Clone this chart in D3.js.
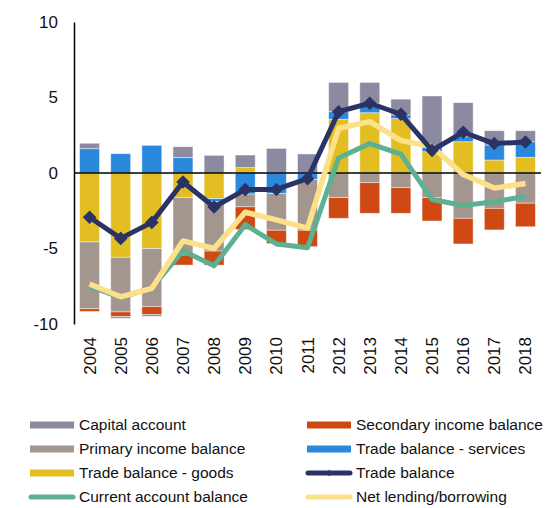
<!DOCTYPE html>
<html>
<head>
<meta charset="utf-8">
<script src="https://cdn.jsdelivr.net/npm/d3@7"></script>
<style>
  body { margin: 0; background: #fff; }
  svg text { font-family: "Liberation Sans", Arial, sans-serif; fill: #111; }
</style>
</head>
<body>
<div id="chart"></div>
<script>
// data, % of GDP
const years = ["2004","2005","2006","2007","2008","2009","2010","2011","2012","2013","2014","2015","2016","2017","2018"];

const goods     = [-4.57, -5.58, -5.01, -1.63, -1.70,  0.36,  0.00,  0.00, 3.56, 3.99, 3.60, 1.41, 2.07, 0.86, 1.04];
const services  = [ 1.61,  1.28,  1.83,  1.03, -0.20, -1.40, -1.35, -0.42, 0.50, 0.63, 0.25, 0.33, 0.33, 0.99, 1.03];
const primary   = [-4.42, -3.62, -3.84, -3.80, -3.27, -0.84, -2.44, -3.37, -1.63, -0.64, -0.97, -1.63, -3.00, -2.34, -2.00];
const secondary = [-0.18, -0.31, -0.53, -0.67, -0.93, -1.50, -0.88, -1.09, -1.37, -2.03, -1.70, -1.55, -1.70, -1.43, -1.56];
const capital   = [ 0.36, -0.11, -0.11,  0.71,  1.17,  0.83,  1.63,  1.26, 1.94, 1.38, 1.04, 3.36, 2.26, 0.95, 0.73];

const tradeBalance   = [-2.93, -4.33, -3.27, -0.60, -2.25, -1.10, -1.09, -0.38, 4.06, 4.62, 3.89, 1.50, 2.70, 1.95, 2.05];
const currentAccount = [-7.50, -8.25, -7.60, -5.15, -6.15, -3.42, -4.70, -4.95, 1.00, 1.95, 1.25, -1.75, -2.15, -1.90, -1.55];
const netLending     = [-7.35, -8.20, -7.64, -4.50, -5.00, -2.60, -3.10, -3.65, 2.96, 3.40, 2.15, 1.75, -0.10, -1.00, -0.70];

const yTicks = [-10, -5, 0, 5, 10];

const width = 554, height = 508;

const svg = d3.select("#chart").append("svg")
    .attr("width", width)
    .attr("height", height);

// stacking order goes outward from zero: goods, services, primary, secondary, capital
const barKeys = ["goods", "services", "primary", "secondary", "capital"];
const barSeries = {goods, services, primary, secondary, capital};
const color = {
    capital: "#8b8aa1",
    secondary: "#cf4915",
    primary: "#a3968e",
    services: "#2b89dd",
    goods: "#e2be22",
    trade: "#2b3366",
    current: "#5cb192",
    lending: "#fde08a"
};

const rows = years.map((y, i) => {
    const r = {year: y};
    barKeys.forEach(k => r[k] = barSeries[k][i]);
    return r;
});

const stacked = d3.stack()
    .keys(barKeys)
    .offset(d3.stackOffsetDiverging)(rows);

const x = d3.scaleBand()
    .domain(years)
    .range([74, 541])
    .paddingInner(0.36)
    .paddingOuter(0.18);

const y = d3.scaleLinear()
    .domain([-10, 10])
    .range([324, 22]);

// bars
svg.append("g")
    .selectAll("g")
    .data(stacked)
    .enter().append("g")
    .attr("fill", d => color[d.key])
    .selectAll("rect")
    .data(d => d)
    .enter().append("rect")
    .attr("x", d => x(d.data.year))
    .attr("width", x.bandwidth())
    .attr("y", d => y(Math.max(d[0], d[1])))
    .attr("height", d => Math.abs(y(d[0]) - y(d[1])))
    .attr("stroke", "rgba(255,255,255,0.55)")
    .attr("stroke-width", 0.8);

// zero line
svg.append("line")
    .attr("x1", x.range()[0]).attr("x2", x.range()[1])
    .attr("y1", y(0)).attr("y2", y(0))
    .attr("stroke", "#000")
    .attr("stroke-width", 1.5);

// y axis
const yAxis = svg.append("g")
    .attr("transform", "translate(74,0)")
    .call(d3.axisLeft(y).tickValues(yTicks).tickSize(0).tickSizeOuter(0).tickPadding(16).tickFormat(d => String(d)));
yAxis.select(".domain").attr("stroke", "#000").attr("stroke-width", 1.5);
yAxis.selectAll("text").style("font-size", "17px").style("font-family", null);

// x axis labels
const xAxis = svg.append("g")
    .attr("transform", "translate(0,324)")
    .call(d3.axisBottom(x).tickSize(0));
xAxis.select(".domain").remove();
xAxis.selectAll("text")
    .attr("transform", "rotate(-90)")
    .attr("x", -13)
    .attr("y", 6)
    .attr("dy", null)
    .style("text-anchor", "end")
    .style("font-size", "17px")
    .style("font-family", null);

const cx = d => x(d) + x.bandwidth() / 2;
const line = vals => d3.line()
    .x((d, i) => cx(years[i]))
    .y(d => y(d))(vals);

svg.append("path")
    .attr("d", line(currentAccount))
    .attr("fill", "none")
    .attr("stroke", color.current)
    .attr("stroke-width", 5)
    .attr("stroke-linejoin", "round");

svg.append("path")
    .attr("d", line(netLending))
    .attr("fill", "none")
    .attr("stroke", color.lending)
    .attr("stroke-width", 5.5)
    .attr("stroke-linejoin", "round");

svg.append("path")
    .attr("d", line(tradeBalance))
    .attr("fill", "none")
    .attr("stroke", color.trade)
    .attr("stroke-width", 5)
    .attr("stroke-linejoin", "round");

// diamond markers
svg.append("g")
    .selectAll("path")
    .data(tradeBalance)
    .enter().append("path")
    .attr("d", d3.symbol(d3.symbolSquare, 92)())
    .attr("transform", (d, i) => "translate(" + cx(years[i]) + "," + y(d) + ") rotate(45)")
    .attr("fill", color.trade);

// legend
const legendItems = [
    {label: "Capital account", key: "capital", type: "bar"},
    {label: "Secondary income balance", key: "secondary", type: "bar"},
    {label: "Primary income balance", key: "primary", type: "bar"},
    {label: "Trade balance - services", key: "services", type: "bar"},
    {label: "Trade balance - goods", key: "goods", type: "bar"},
    {label: "Trade balance", key: "trade", type: "marker"},
    {label: "Current account balance", key: "current", type: "line"},
    {label: "Net lending/borrowing", key: "lending", type: "line"}
];

const legend = svg.append("g")
    .selectAll("g")
    .data(legendItems)
    .enter().append("g")
    .attr("transform", (d, i) => "translate(" + (i % 2 ? 307 : 30) + "," + (425 + Math.floor(i / 2) * 24) + ")");

legend.filter(d => d.type === "bar").append("rect")
    .attr("x", 0).attr("y", -3.5)
    .attr("width", 44).attr("height", 7)
    .attr("fill", d => color[d.key]);

legend.filter(d => d.type !== "bar").append("line")
    .attr("x1", 1).attr("x2", 43)
    .attr("y1", 0).attr("y2", 0)
    .attr("stroke", d => color[d.key])
    .attr("stroke-width", 5)
    .attr("stroke-linecap", "round");

legend.filter(d => d.type === "marker").append("path")
    .attr("d", d3.symbol(d3.symbolSquare, 20)())
    .attr("transform", "translate(22,0) rotate(45)")
    .attr("fill", d => color[d.key]);

legend.append("text")
    .attr("x", 49)
    .attr("y", 0)
    .attr("dy", "0.35em")
    .style("font-size", "15.5px")
    .text(d => d.label);
</script>
</body>
</html>
